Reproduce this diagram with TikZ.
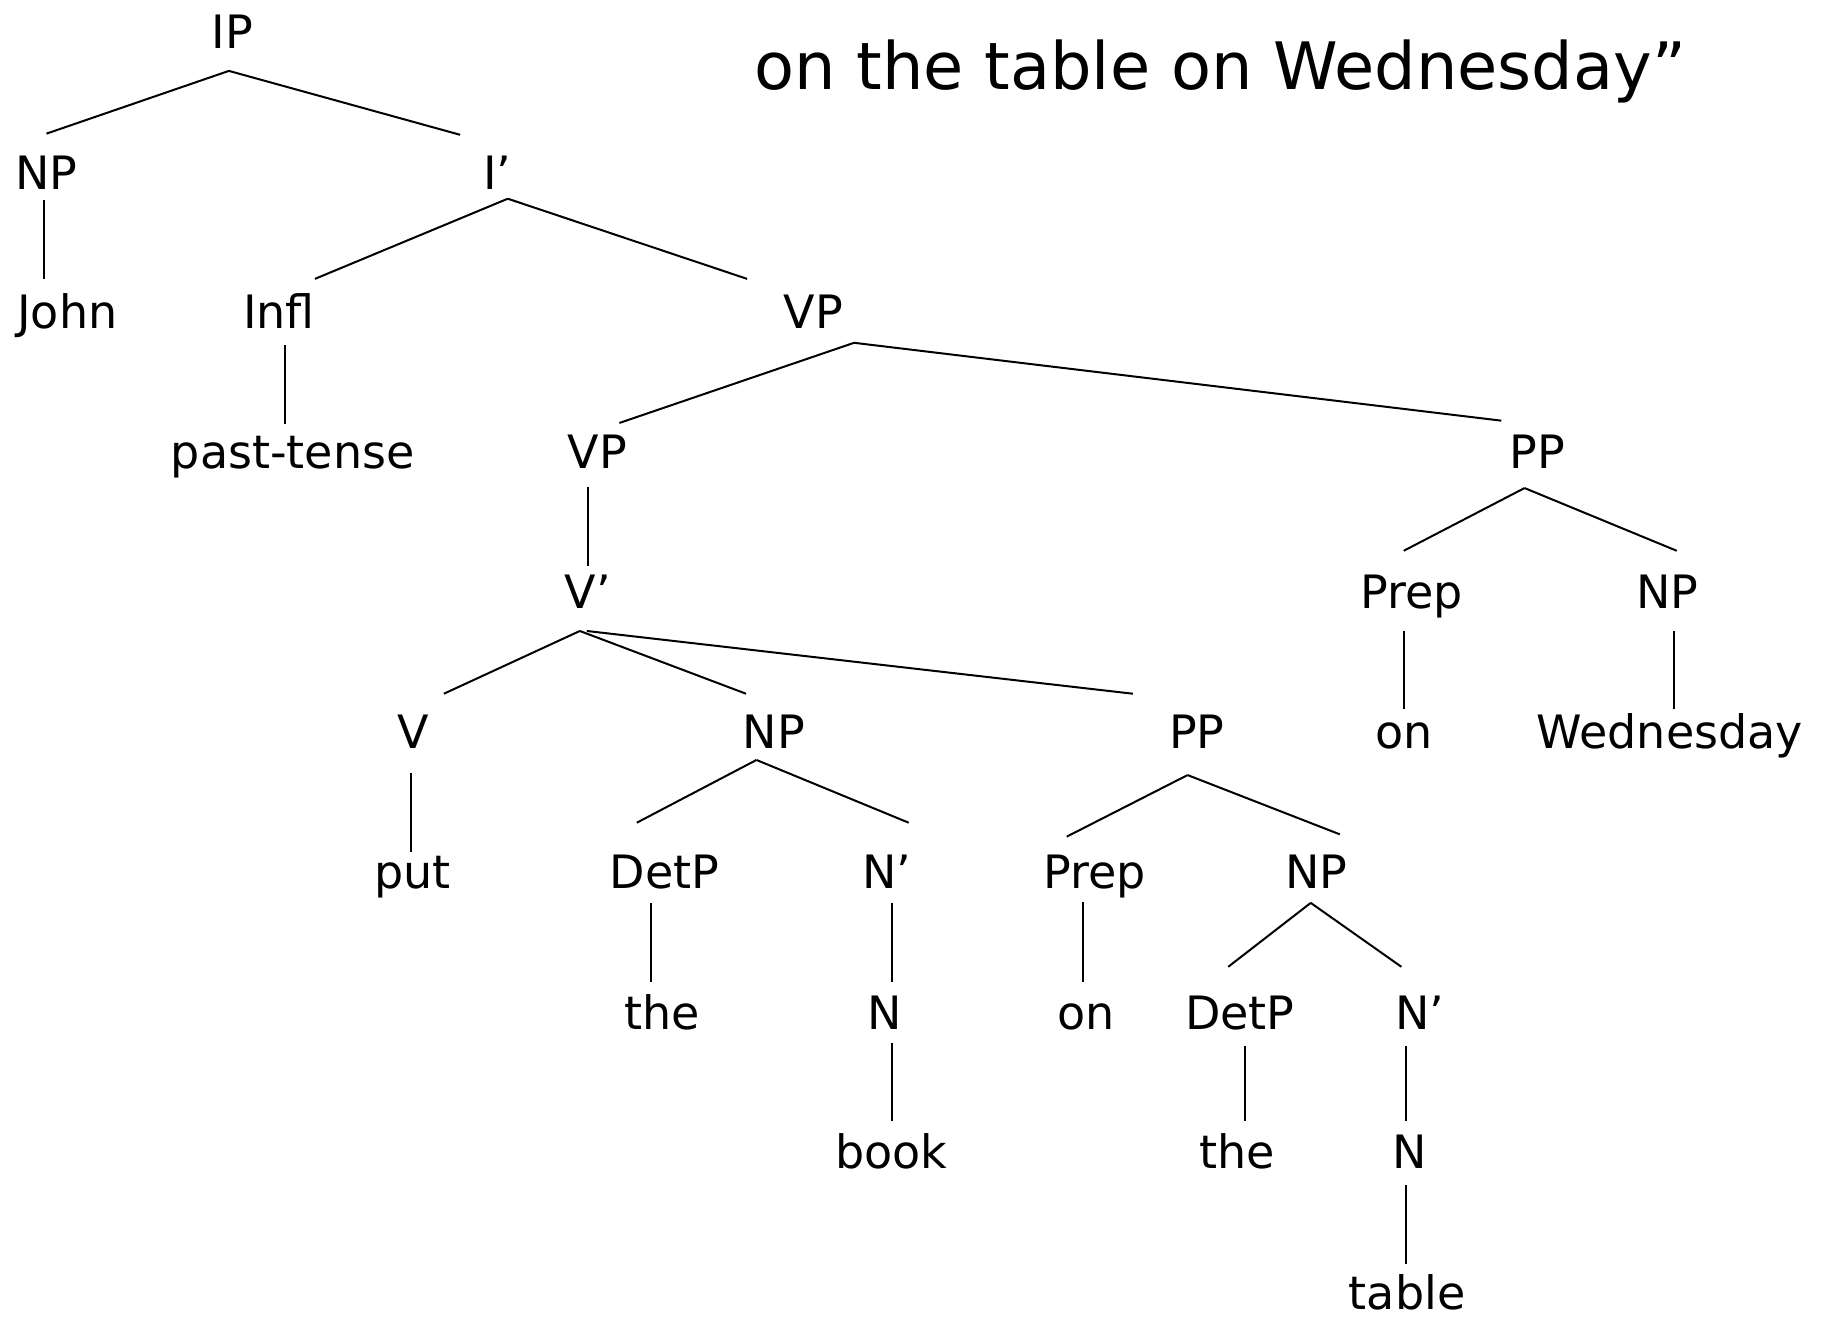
\documentclass[tikz,border=0pt]{standalone}
\usepackage{fontspec}
\setmainfont{DejaVu Sans}
\newcommand\lnk[6]{\draw ([shift={(#2,#3)}]#1.base) -- ([shift={(#5,#6)}]#4.base);}
\begin{document}
\begin{tikzpicture}[x=0.581pt,y=-0.581pt,
  lbl/.style={anchor=base,inner sep=0pt,font=\fontsize{23}{28}\selectfont},
  every path/.style={line width=1pt}]
\useasboundingbox (0,0) rectangle (1568,1134);
\node[anchor=base,inner sep=0pt,font=\fontsize{32.7}{38}\selectfont] (title) at (1050,77) {on the table on Wednesday”};
% row 0
\node[lbl] (IP) at (200,42) {IP};
% row 1
\node[lbl] (NPa) at (40,163) {NP};
\node[lbl] (Ib) at (428,163) {I’};
% row 2
\node[lbl] (John) at (58,283) {John};
\node[lbl] (Infl) at (240,283) {Infl};
\node[lbl] (VPa) at (700,283) {VP};
% row 3
\node[lbl] (past) at (252,403) {past-tense};
\node[lbl] (VPb) at (514,403) {VP};
\node[lbl] (PPa) at (1323,403) {PP};
% row 4
\node[lbl] (Vb) at (506,524) {V’};
\node[lbl] (Prepa) at (1215,524) {Prep};
\node[lbl] (NPb) at (1435,524) {NP};
% row 5
\node[lbl] (V) at (356,644) {V};
\node[lbl] (NPc) at (666,644) {NP};
\node[lbl] (PPb) at (1030,644) {PP};
\node[lbl] (ona) at (1208,644) {on};
\node[lbl] (Wed) at (1437,644) {Wednesday};
% row 6
\node[lbl] (put) at (355,765) {put};
\node[lbl] (DetPa) at (572,765) {DetP};
\node[lbl] (Nba) at (763,765) {N’};
\node[lbl] (Prepb) at (942,765) {Prep};
\node[lbl] (NPd) at (1133,765) {NP};
% row 7
\node[lbl] (thea) at (570,886) {the};
\node[lbl] (Na) at (761,886) {N};
\node[lbl] (onb) at (935,886) {on};
\node[lbl] (DetPb) at (1067,886) {DetP};
\node[lbl] (Nbb) at (1222,886) {N’};
% row 8
\node[lbl] (book) at (767,1006) {book};
\node[lbl] (theb) at (1065,1006) {the};
\node[lbl] (Nb) at (1213,1006) {N};
% row 9
\node[lbl] (table) at (1211,1127) {table};
% connectors
\lnk{IP}{-3}{19}{NPa}{0}{-48}
\lnk{IP}{-3}{19}{Ib}{-32}{-47}
\lnk{NPa}{-2}{9}{John}{-20}{-43}
\lnk{Ib}{9}{8}{Infl}{31}{-43}
\lnk{Ib}{9}{8}{VPa}{-57}{-43}
\lnk{Infl}{5}{14}{past}{-7}{-38}
\lnk{VPa}{35}{12}{VPb}{19}{-39}
\lnk{VPa}{35}{12}{PPa}{-31}{-41}
\lnk{VPb}{-8}{16}{Vb}{0}{-37}
\lnk{PPa}{-11}{17}{Prepa}{-7}{-50}
\lnk{PPa}{-11}{17}{NPb}{8}{-50}
\lnk{Prepa}{-7}{19}{ona}{0}{-34}
\lnk{NPb}{6}{19}{Wed}{4}{-34}
\lnk{Vb}{-7}{19}{V}{26}{-47}
\lnk{Vb}{-7}{19}{NPc}{-24}{-47}
\lnk{Vb}{-1}{19}{PPb}{-55}{-47}
\lnk{V}{-2}{21}{put}{-1}{-32}
\lnk{NPc}{-15}{10}{DetPa}{-24}{-57}
\lnk{NPc}{-15}{10}{Nba}{19}{-57}
\lnk{PPb}{-8}{23}{Prepb}{-24}{-45}
\lnk{PPb}{-8}{23}{NPd}{20}{-47}
\lnk{DetPa}{-12}{12}{thea}{-10}{-41}
\lnk{Nba}{5}{12}{Na}{7}{-41}
\lnk{Na}{7}{12}{book}{1}{-41}
\lnk{Prepb}{-10}{11}{onb}{-3}{-41}
\lnk{NPd}{-5}{12}{DetPb}{-10}{-54}
\lnk{NPd}{-5}{12}{Nbb}{-16}{-54}
\lnk{DetPb}{4}{14}{theb}{6}{-41}
\lnk{Nbb}{-12}{14}{Nb}{-3}{-41}
\lnk{Nb}{-3}{14}{table}{-1}{-39}
\end{tikzpicture}
\end{document}
